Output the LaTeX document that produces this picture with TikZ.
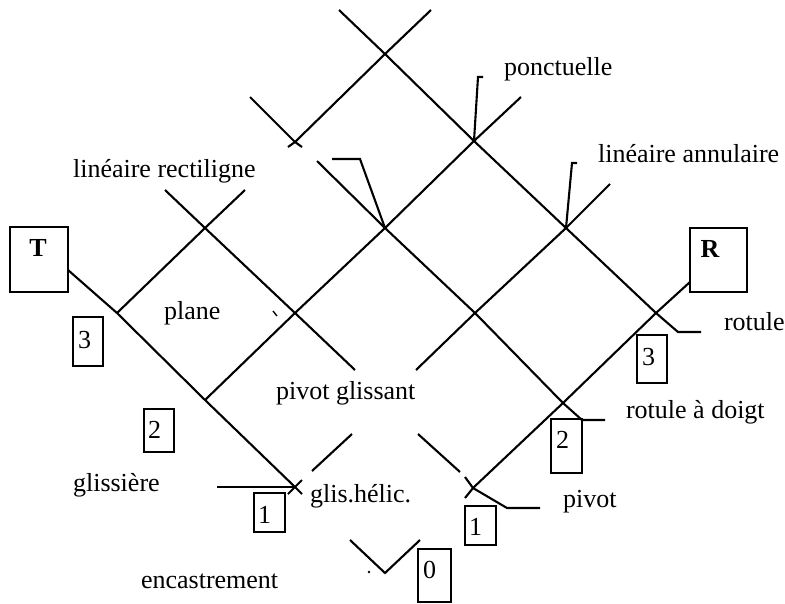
\documentclass[tikz,border=0pt]{standalone}
\usepackage{fontspec}
\setmainfont{Liberation Serif}
\begin{document}
\begin{tikzpicture}[x=1pt,y=-1pt,line width=2.1pt,
  lbl/.style={inner sep=0pt,font=\fontsize{26}{30}\selectfont,anchor=base west},
  boldlbl/.style={inner sep=0pt,font=\fontsize{26}{30}\selectfont\bfseries,anchor=base},
  numbox/.style={draw,line width=2pt,inner sep=0pt,outer sep=0pt,anchor=north west},
  lattice/.style={line width=2.1pt,line join=miter}]
\useasboundingbox (0,0) rectangle (785,603);

% lattice crossings
\coordinate (A) at (385,54);
\coordinate (B) at (474,141);
\coordinate (C) at (566,228);
\coordinate (D) at (656,313);
\coordinate (E) at (295,142);
\coordinate (F) at (385,228);
\coordinate (G) at (475,313);
\coordinate (H) at (563,403);
\coordinate (I) at (205,228);
\coordinate (J) at (295,313);
\coordinate (L) at (473,488);
\coordinate (M) at (117,313);
\coordinate (N) at (205,400);
\coordinate (O) at (295,487);

% free ends
\coordinate (l1s) at (339,10);
\coordinate (l1k) at (678,332);
\coordinate (l1e) at (701,332);
\coordinate (l2s) at (250,97);
\coordinate (l2a) at (302,147);
\coordinate (l2b) at (317,161);
\coordinate (l2k) at (582,420);
\coordinate (l2e) at (605,420);
\coordinate (l3s) at (165,190);
\coordinate (l3a) at (355,370);
\coordinate (l3b) at (418,434);
\coordinate (l3c) at (460,472);
\coordinate (l3d) at (465,477);
\coordinate (l3k) at (507,508);
\coordinate (l3e) at (540,508);
\coordinate (l4s) at (68,270);
\coordinate (l4e) at (302,494);
\coordinate (as) at (431,10);
\coordinate (ae) at (288,147);
\coordinate (bs) at (521,97);
\coordinate (cs) at (610,184);
\coordinate (ca) at (416,370);
\coordinate (cb) at (352,434);
\coordinate (cc) at (312,471);
\coordinate (cd) at (302,480);
\coordinate (ce) at (288,494);
\coordinate (ds) at (245,190);
\coordinate (es) at (690,282);
\coordinate (ee) at (465,498);

% boxes T and R
\node[numbox,minimum width=58pt,minimum height=65pt] (Tbox) at (10,227) {};
\node[boldlbl] (Tlab) at (38,256) {T};
\node[numbox,minimum width=57pt,minimum height=64pt] (Rbox) at (690,228) {};
\node[boldlbl] (Rlab) at (710,257) {R};

% down-right lines
\draw[lattice] (l1s) -- (A) -- (B) -- (C) -- (D) -- (l1k) -- (l1e);
\draw[lattice] (l2s) -- (E) -- (l2a);
\draw[lattice] (l2b) -- (F) -- (G) -- (H) -- (l2k) -- (l2e);
\draw[lattice] (l3s) -- (I) -- (J) -- (l3a);
\draw[lattice] (l3b) -- (l3c);
\draw[lattice] (l3d) -- (L) -- (l3k) -- (l3e);
\draw[lattice] (l4s) -- (M) -- (N) -- (O) -- (l4e);

% up-right lines
\draw[lattice] (as) -- (A) -- (E) -- (ae);
\draw[lattice] (bs) -- (B) -- (F) -- (J) -- (N);
\draw[lattice] (cs) -- (C) -- (G) -- (ca);
\draw[lattice] (cb) -- (cc);
\draw[lattice] (cd) -- (ce);
\draw[lattice] (ds) -- (I) -- (M);
\draw[lattice] (es) -- (D) -- (H) -- (L) -- (ee);

% pointers
\coordinate (pp1) at (478,77);
\coordinate (pp2) at (483,77);
\draw[lattice] (B) -- (pp1) -- (pp2);
\coordinate (pa1) at (572,163);
\coordinate (pa2) at (577,163);
\draw[lattice] (C) -- (pa1) -- (pa2);
\coordinate (pr1) at (360,159);
\coordinate (pr2) at (332,159);
\draw[lattice] (F) -- (pr1) -- (pr2);
\coordinate (pg) at (217,487);
\draw[lattice] (pg) -- (O);

% bottom V
\coordinate (v1) at (350,540);
\coordinate (v2) at (385,573);
\coordinate (v3) at (420,540);
\draw[lattice] (v1) -- (v2) -- (v3);
\fill (369,572) circle (1.3);
% small tick
\draw[line width=1.4pt] (273,311) -- (277,316);

% labels
\node[lbl] (t-ponct) at (503,75) {ponctuelle};
\node[lbl] (t-linann) at (597,162) {linéaire annulaire};
\node[lbl] (t-linrect) at (72,177) {linéaire rectiligne};
\node[lbl] (t-plane) at (163,319) {plane};
\node[lbl] (t-pivgl) at (275,399) {pivot glissant};
\node[lbl] (t-gliss) at (72,491) {glissière};
\node[lbl] (t-glish) at (309,502) {glis.hélic.};
\node[lbl] (t-encas) at (140,588) {encastrement};
\node[lbl] (t-pivot) at (562,507) {pivot};
\node[lbl] (t-rotd) at (625,418) {rotule à doigt};
\node[lbl] (t-rot) at (723,330) {rotule};

% number boxes
\node[numbox,minimum width=30pt,minimum height=49pt] (n3l) at (73,317) {};
\node[lbl] (d3l) at (77,348) {3};
\node[numbox,minimum width=30pt,minimum height=43pt] (n2l) at (144,409) {};
\node[lbl] (d2l) at (147,438) {2};
\node[numbox,minimum width=31pt,minimum height=39pt] (n1l) at (254,493) {};
\node[lbl] (d1l) at (257,523) {1};
\node[numbox,minimum width=33pt,minimum height=53pt] (n0) at (418,549) {};
\node[lbl] (d0) at (422,578) {0};
\node[numbox,minimum width=31pt,minimum height=39pt] (n1r) at (465,506) {};
\node[lbl] (d1r) at (468,535) {1};
\node[numbox,minimum width=31pt,minimum height=54pt] (n2r) at (551,419) {};
\node[lbl] (d2r) at (555,448) {2};
\node[numbox,minimum width=30pt,minimum height=48pt] (n3r) at (637,335) {};
\node[lbl] (d3r) at (641,365) {3};
\end{tikzpicture}
\end{document}
